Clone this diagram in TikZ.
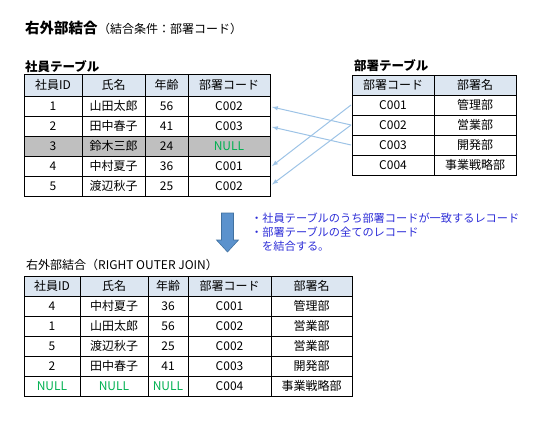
\documentclass[tikz,border=0pt]{standalone}
\usepackage{fontspec}
\setmainfont{Noto Sans CJK JP}
\usepackage{tikz}
\usetikzlibrary{arrows,positioning}
\definecolor{hdrblue}{RGB}{220,230,241}
\definecolor{rowgray}{RGB}{191,191,191}
\definecolor{nullgreen}{RGB}{0,176,80}
\definecolor{linkblue}{RGB}{157,195,230}
\definecolor{noteblue}{RGB}{45,45,215}
\definecolor{arrowblue}{RGB}{91,146,205}
\definecolor{arrowdark}{RGB}{65,113,160}

\tikzset{
  cell/.style={draw, line width=1pt, inner sep=0pt, outer sep=0pt, minimum height=20pt, anchor=north west, font=\fontsize{12}{12}\selectfont},
  hdr/.style={cell, fill=hdrblue},
  link/.style={draw=linkblue, line width=1pt, -latex},
  note/.style={anchor=west, inner sep=0pt, text=noteblue, font=\fontsize{11.2}{12}\selectfont},
}

\begin{document}
\begin{tikzpicture}[x=1pt, y=-1pt]
  \useasboundingbox (0,0) rectangle (543,420);
  % title
  \node[anchor=west, inner sep=0pt, font=\bfseries\fontsize{14.5}{15}\selectfont] (title) at (25,28) {右外部結合};
  \node[anchor=base west, inner sep=0pt, font=\fontsize{12}{12}\selectfont] (cond) at (title.base east) {（結合条件：部署コード）};
  \node[anchor=west, inner sep=0pt, font=\bfseries\fontsize{12.5}{13}\selectfont] (emplabel) at (25,66.5) {社員テーブル};
  \node[anchor=west, inner sep=0pt, font=\bfseries\fontsize{12.5}{13}\selectfont] (deptlabel) at (354,66) {部署テーブル};

  % employee table
  \foreach \x/\w/\t [count=\c] in {24/58/社員ID,82/63/氏名,145/43/年齢,188/82/部署コード}
    \node[hdr, minimum width=\w pt, minimum height=22pt] (emp0-\c) at (\x,74) {\t};
  \foreach \r/\a/\b/\n/\d/\f in {1/1/山田太郎/56/C002/white,
                                 2/2/田中春子/41/C003/white,
                                 3/3/鈴木三郎/24/{\textcolor{nullgreen}{NULL}}/rowgray,
                                 4/4/中村夏子/36/C001/white,
                                 5/5/渡辺秋子/25/C002/white}{
    \pgfmathsetmacro\y{96+20*(\r-1)}
    \node[cell, fill=\f, minimum width=58pt] (emp\r-1) at (24,\y) {\a};
    \node[cell, fill=\f, minimum width=63pt] (emp\r-2) at (82,\y) {\b};
    \node[cell, fill=\f, minimum width=43pt] (emp\r-3) at (145,\y) {\n};
    \node[cell, fill=\f, minimum width=82pt] (emp\r-4) at (188,\y) {\d};
  }

  % department table
  \node[hdr, minimum width=82pt] (dept0-1) at (352,75) {部署コード};
  \node[hdr, minimum width=82pt] (dept0-2) at (434,75) {部署名};
  \foreach \r/\d/\m in {1/C001/管理部,2/C002/営業部,3/C003/開発部,4/C004/事業戦略部}{
    \pgfmathsetmacro\y{95+20*(\r-1)}
    \node[cell, minimum width=82pt] (dept\r-1) at (352,\y) {\d};
    \node[cell, minimum width=82pt] (dept\r-2) at (434,\y) {\m};
  }

  % links
  \draw[link] ([xshift=-1pt]dept2-1.west) -- ([xshift=2pt,yshift=-1pt]emp1-4.east);
  \draw[link] ([xshift=-1pt]dept3-1.west) -- ([xshift=2pt,yshift=-1pt]emp2-4.east);
  \draw[link] ([xshift=-1pt]dept1-1.west) -- ([xshift=2pt]emp4-4.east);
  \draw[link] ([xshift=-1pt]dept2-1.west) -- ([xshift=2pt,yshift=1.5pt]emp5-4.east);

  % down arrow
  \filldraw[fill=arrowblue, draw=arrowdark, line width=0.6pt]
    (221.5,213) -- (233.5,213) -- (233.5,240) -- (238.5,240) -- (227.5,252)
    -- (216.5,240) -- (221.5,240) -- cycle;
  \node[note] (note1) at (251,218) {・社員テーブルのうち部署コードが一致するレコード};
  \node[note] (note2) at (251,232) {・部署テーブルの全てのレコード};
  \node[note] (note3) at (262,246.5) {を結合する。};

  % result table
  \node[anchor=west, inner sep=0pt, font=\fontsize{12}{12}\selectfont] (reslabel) at (26,265) {右外部結合（RIGHT OUTER JOIN）};
  \foreach \x/\w/\t [count=\c] in {24/56/社員ID,80/68/氏名,148/40/年齢,188/83/部署コード,271/81/部署名}
    \node[hdr, minimum width=\w pt] (res0-\c) at (\x,276) {\t};
  \foreach \r/\a/\b/\n/\d/\m in {1/4/中村夏子/36/C001/管理部,
                                 2/1/山田太郎/56/C002/営業部,
                                 3/5/渡辺秋子/25/C002/営業部,
                                 4/2/田中春子/41/C003/開発部,
                                 5/{\textcolor{nullgreen}{NULL}}/{\textcolor{nullgreen}{NULL}}/{\textcolor{nullgreen}{NULL}}/C004/事業戦略部}{
    \pgfmathsetmacro\y{296+20*(\r-1)}
    \node[cell, minimum width=56pt] (res\r-1) at (24,\y) {\a};
    \node[cell, minimum width=68pt] (res\r-2) at (80,\y) {\b};
    \node[cell, minimum width=40pt] (res\r-3) at (148,\y) {\n};
    \node[cell, minimum width=83pt] (res\r-4) at (188,\y) {\d};
    \node[cell, minimum width=81pt] (res\r-5) at (271,\y) {\m};
  }
\end{tikzpicture}
\end{document}
